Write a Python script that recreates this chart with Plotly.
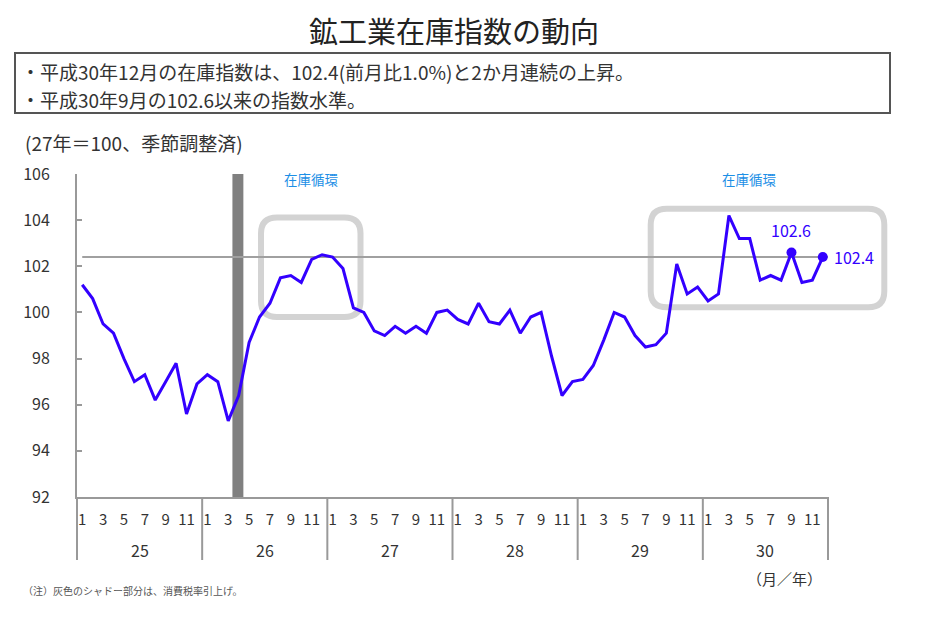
import plotly.graph_objects as go

# 鉱工業在庫指数 (平成27年=100, 季節調整済), 平成25年1月〜平成30年12月
years = ["25", "26", "27", "28", "29", "30"]
month_labels = ["1", "3", "5", "7", "9", "11"]

inv_h25 = [101.2, 100.6, 99.5, 99.1, 98.0, 97.0, 97.3, 96.2, 97.0, 97.8, 95.6, 96.9]
inv_h26 = [97.3, 97.0, 95.3, 96.4, 98.7, 99.8, 100.4, 101.5, 101.6, 101.3, 102.3, 102.5]
inv_h27 = [102.4, 101.9, 100.2, 100.0, 99.2, 99.0, 99.4, 99.1, 99.4, 99.1, 100.0, 100.1]
inv_h28 = [99.7, 99.5, 100.4, 99.6, 99.5, 100.1, 99.1, 99.8, 100.0, 98.1, 96.4, 97.0]
inv_h29 = [97.1, 97.7, 98.8, 100.0, 99.8, 99.0, 98.5, 98.6, 99.1, 102.1, 100.8, 101.1]
inv_h30 = [100.5, 100.8, 104.2, 103.2, 103.2, 101.4, 101.6, 101.4, 102.6, 101.3, 101.4, 102.4]

inventory = inv_h25 + inv_h26 + inv_h27 + inv_h28 + inv_h29 + inv_h30
months = list(range(len(inventory)))
marked = [68, 71]          # H30年9月, 12月
tax_hike = [14.4, 15.45]   # H26年4月 消費税率引上げ

LINE_BLUE = "#3300FF"
TEXT_BLUE = "#1C8FE6"
GRAY_BOX = "#D3D3D3"
AXIS_GRAY = "#999999"
TEXT = "#333333"
FONT = "Noto Sans CJK JP"

# page body has an 8px margin, so work in page pixels and shift back
OFF = 8
W, H = 932 - 2 * OFF, 622 - 2 * OFF
L, R, T, B = 77 - OFF, 828 - OFF, 174 - OFF, 497 - OFF


def paper_x(px):
    return (px - OFF - L) / (R - L)


def paper_y(py):
    return (B - (py - OFF)) / (B - T)


def rounded_box(x0, y0, x1, y1, r):
    # pixel box -> svg path in paper coords
    ax, bx = paper_x(x0), paper_x(x1)
    ay, by = paper_y(y0), paper_y(y1)
    rx, ry = r / (R - L), r / (B - T)
    return (f"M {ax + rx},{ay} L {bx - rx},{ay} Q {bx},{ay} {bx},{ay - ry} "
            f"L {bx},{by + ry} Q {bx},{by} {bx - rx},{by} "
            f"L {ax + rx},{by} Q {ax},{by} {ax},{by + ry} "
            f"L {ax},{ay - ry} Q {ax},{ay} {ax + rx},{ay} Z")


fig = go.Figure()
fig.add_trace(go.Scatter(x=months, y=inventory, mode="lines",
                         line=dict(color=LINE_BLUE, width=3),
                         hoverinfo="y", showlegend=False))
fig.add_trace(go.Scatter(x=marked, y=[inventory[i] for i in marked],
                         mode="markers", marker=dict(color=LINE_BLUE, size=10),
                         hoverinfo="skip", showlegend=False))

shapes = []
# 消費税率引上げ
shapes.append(dict(type="rect", xref="x", yref="y", x0=tax_hike[0], x1=tax_hike[1],
                   y0=92, y1=106, fillcolor="#808080", line_width=0, layer="below"))
# 最新値の水準線
shapes.append(dict(type="line", xref="x", yref="y", x0=0, x1=71.5,
                   y0=inventory[-1], y1=inventory[-1],
                   line=dict(color="#A0A0A0", width=2), layer="below"))
# 在庫循環の囲み
for box in [(261, 217.5, 360.5, 317), (650.7, 208.7, 884.3, 307.3)]:
    shapes.append(dict(type="path", xref="paper", yref="paper",
                       path=rounded_box(*box, 16),
                       line=dict(color=GRAY_BOX, width=6), layer="below"))
# 年の区切り
for k in range(len(years) + 1):
    shapes.append(dict(type="line", xref="paper", yref="paper",
                       x0=k / len(years), x1=k / len(years),
                       y0=0, y1=paper_y(560),
                       line=dict(color=AXIS_GRAY, width=2)))
# 説明文の枠
shapes.append(dict(type="rect", xref="paper", yref="paper",
                   x0=paper_x(15), x1=paper_x(890), y0=paper_y(53), y1=paper_y(113),
                   line=dict(color="#555555", width=2)))

annotations = []


def note(text, px, py, size, color=TEXT, xanchor="left", yanchor="middle"):
    annotations.append(dict(text=text, xref="paper", yref="paper",
                            x=paper_x(px), y=paper_y(py), xanchor=xanchor,
                            yanchor=yanchor, showarrow=False, borderpad=0,
                            font=dict(family=FONT, size=size, color=color)))


# title hangs from the very top of the figure so it is not clipped
note("鉱工業在庫指数の動向", 454, OFF, 29, "#222222", "center", "top")
note("・平成30年12月の在庫指数は、102.4(前月比1.0%)と2か月連続の上昇。", 20, 71, 19)
note("・平成30年9月の102.6以来の指数水準。", 20, 99, 19)
note("(27年＝100、季節調整済)", 24, 142, 19)
note("在庫循環", 311, 179, 13.5, TEXT_BLUE, "center")
note("在庫循環", 749, 179, 13.5, TEXT_BLUE, "center")
note("（月／年）", 823, 578, 15, TEXT, "right")
note("（注）灰色のシャドー部分は、消費税率引上げ。", 22, 590, 10, "#555555")

for k, yr in enumerate(years):
    annotations.append(dict(text=yr, xref="x", yref="paper", x=12 * k + 5.5,
                            y=paper_y(550), yanchor="middle", showarrow=False,
                            font=dict(family=FONT, size=16, color=TEXT)))

annotations.append(dict(text="102.6", x=marked[0], y=inventory[marked[0]],
                        xref="x", yref="y", yshift=22, showarrow=False,
                        font=dict(family=FONT, size=16, color=LINE_BLUE)))
annotations.append(dict(text="102.4", x=marked[1], y=inventory[marked[1]],
                        xref="x", yref="y", xanchor="left", xshift=9, showarrow=False,
                        font=dict(family=FONT, size=16, color=LINE_BLUE)))

tickvals = [12 * k + m for k in range(len(years)) for m in range(0, 12, 2)]
ticktext = month_labels * len(years)

fig.update_xaxes(range=[-0.5, 71.5], tickmode="array", tickvals=tickvals,
                 ticktext=ticktext, ticks="", showgrid=False, zeroline=False,
                 showline=True, linecolor=AXIS_GRAY, linewidth=2,
                 ticklabelstandoff=8,
                 tickfont=dict(family=FONT, size=15, color=TEXT))
fig.update_yaxes(range=[92, 106], dtick=2, ticks="inside", ticklen=5,
                 tickcolor=AXIS_GRAY, tickwidth=2, showgrid=False, zeroline=False,
                 showline=True, linecolor=AXIS_GRAY, linewidth=2,
                 ticklabelstandoff=22,
                 tickfont=dict(family=FONT, size=16, color=TEXT))

fig.update_layout(width=W, height=H, autosize=False,
                  margin=dict(l=L, r=W - R, t=T, b=H - B, pad=0),
                  paper_bgcolor="white", plot_bgcolor="rgba(0,0,0,0)",
                  shapes=shapes, annotations=annotations,
                  font=dict(family=FONT, color=TEXT), showlegend=False)

fig.write_html("out.html")
